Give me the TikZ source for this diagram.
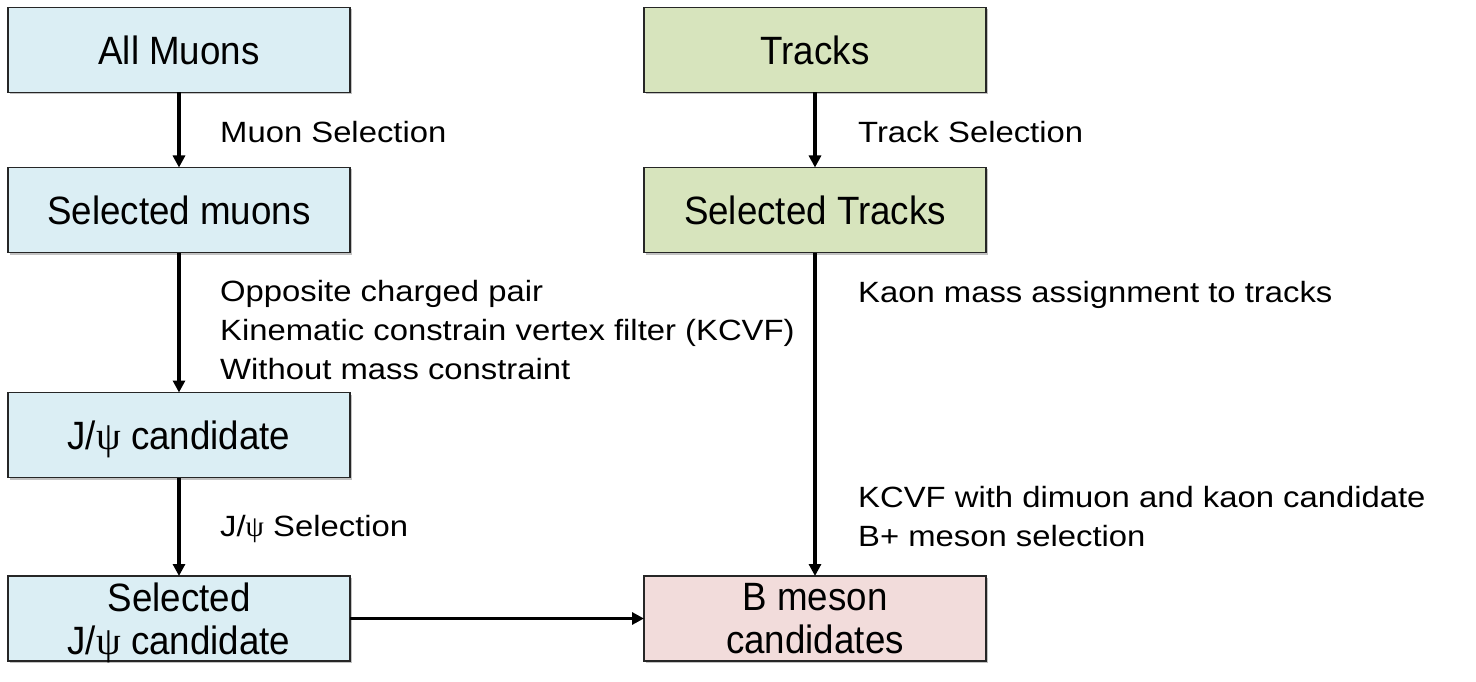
\documentclass[tikz,border=0pt]{standalone}
\usepackage{fontspec}
\setmainfont{Liberation Sans}
\newfontfamily\boxfont[FakeStretch=0.93]{Liberation Sans}
\newfontfamily\labfont[FakeStretch=1.12]{Liberation Sans}
\newfontfamily\grkfont{Liberation Serif}
\newcommand\Jpsi{J/{\grkfont ψ}}
\usetikzlibrary{arrows.meta,shadows}
\definecolor{boxblue}{HTML}{DBEEF4}
\definecolor{boxgreen}{HTML}{D7E4BD}
\definecolor{boxpink}{HTML}{F2DCDB}
\begin{document}
\begin{tikzpicture}[x=1pt,y=-1pt,
  box/.style={draw=black!85, line width=1.3pt, minimum width=342pt, minimum height=85pt,
    inner sep=0pt, outer sep=0pt, align=center, text depth=0pt,
    font=\boxfont\fontsize{39.5}{43}\selectfont,
    drop shadow={shadow xshift=1.5pt, shadow yshift=-2pt, fill=black!40, opacity=0.6}},
  lab/.style={anchor=north west, inner sep=0pt, align=left,
    font=\labfont\fontsize{29.3}{39}\selectfont},
  arr/.style={line width=3.2pt, -{Triangle[length=12pt,width=12pt]}}]
\useasboundingbox (0,0) rectangle (1476,682);
% boxes
\node[box, fill=boxblue]  (am) at (179,50)    {All Muons};
\node[box, fill=boxblue]  (sm) at (179,210)   {Selected muons};
\node[box, fill=boxblue]  (jc) at (179,435)   {\Jpsi{} candidate};
\node[box, fill=boxblue]  (sj) at (179,618.5) {Selected\\\Jpsi{} candidate};
\node[box, fill=boxgreen] (tr) at (815,50)    {Tracks};
\node[box, fill=boxgreen] (st) at (815,210)   {Selected Tracks};
\node[box, fill=boxpink]  (bm) at (815,618.5) {B meson\\candidates};
% connectors
\draw[arr] (am) -- (sm);
\draw[arr] (sm) -- (jc);
\draw[arr] (jc) -- (sj);
\draw[arr] (sj) -- (bm);
\draw[arr] (tr) -- (st);
\draw[arr] (st) -- (bm);
% labels
\node[lab] (l1) at (220,114.7) {\strut Muon Selection};
\node[lab] (l2) at (220,274.2) {\strut Opposite charged pair\\Kinematic constrain vertex filter (KCVF)\\Without mass constraint};
\node[lab] (l3) at (220,509.2) {\strut \Jpsi{} Selection};
\node[lab] (r1) at (858,114.7) {\strut Track Selection};
\node[lab] (r2) at (858,274.7) {\strut Kaon mass assignment to tracks};
\node[lab] (r3) at (858,480.2) {\strut KCVF with dimuon and kaon candidate\\B+ meson selection};
\end{tikzpicture}
\end{document}
